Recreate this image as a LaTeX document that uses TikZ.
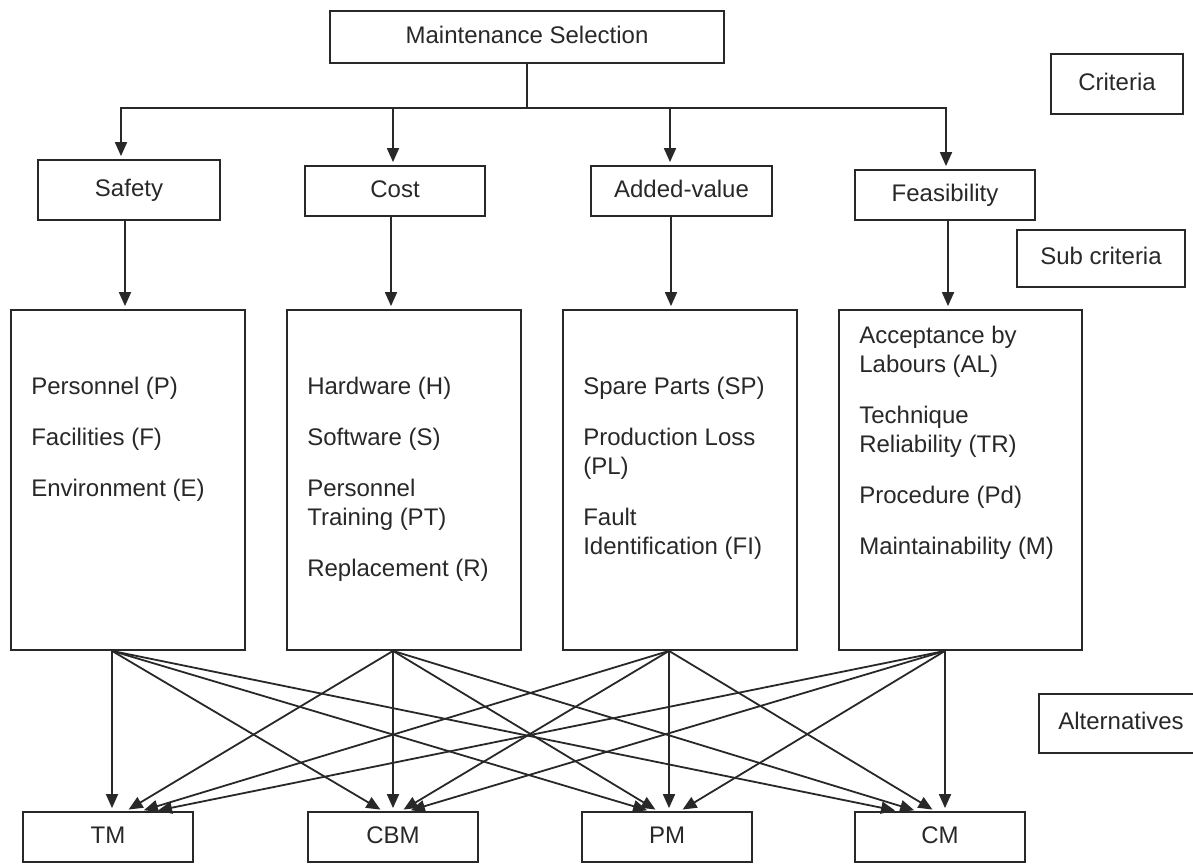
\documentclass[tikz,border=0pt]{standalone}
\usepackage{fontspec}
\setmainfont{Liberation Sans}
\usetikzlibrary{arrows.meta, positioning}
\definecolor{linegray}{RGB}{40, 40, 40}

\begin{document}
\begin{tikzpicture}[
    x=1pt, y=-1pt,
    every node/.style={font=\fontsize{24}{29}\selectfont, text=linegray},
    box/.style={rectangle, draw=linegray, line width=1.8pt, inner sep=0pt, minimum height=50pt, text height=17pt, text depth=5pt},
    bigbox/.style={rectangle, draw=linegray, line width=1.8pt, minimum width=234pt, minimum height=340pt},
    items/.style={anchor=base west, align=left, inner sep=0pt},
    arrow/.style={-{Triangle[length=14pt, width=12pt]}, line width=1.8pt, draw=linegray, shorten >=3pt}
]
    \useasboundingbox (0, 0) rectangle (1193, 863);

    % Goal and level labels
    \node[box, minimum width=394pt, minimum height=52pt] (ms) at (527, 37) {Maintenance Selection};
    \node[box, minimum width=132pt, minimum height=60pt] (crit) at (1117, 84) {Criteria};
    \node[box, minimum width=168pt, minimum height=57pt] (subcrit) at (1101, 258.5) {Sub criteria};
    \node[box, minimum width=164pt, minimum height=59pt] (alt) at (1121, 723.5) {Alternatives};

    % Criteria
    \node[box, minimum width=182pt, minimum height=60pt] (safety) at (129, 190) {Safety};
    \node[box, minimum width=180pt] (cost) at (395, 191) {Cost};
    \node[box, minimum width=181pt] (added) at (681.5, 191) {Added-value};
    \node[box, minimum width=180pt] (feas) at (945, 195) {Feasibility};

    % Sub criteria boxes (text placed by its last baseline)
    \node[bigbox] (sbox) at (128, 480) {};
    \node[bigbox] (cbox) at (404, 480) {};
    \node[bigbox] (abox) at (680, 480) {};
    \node[bigbox, minimum width=243pt] (fbox) at (960.5, 480) {};

    \node[items] (stext) at ([xshift=21pt, yshift=-187pt]sbox.north west) {Personnel (P)\\[22pt]Facilities (F)\\[22pt]Environment (E)};
    \node[items] (ctext) at ([xshift=21pt, yshift=-267pt]cbox.north west) {Hardware (H)\\[22pt]Software (S)\\[22pt]Personnel\\Training (PT)\\[22pt]Replacement (R)};
    \node[items] (atext) at ([xshift=21pt, yshift=-245pt]abox.north west) {Spare Parts (SP)\\[22pt]Production Loss\\(PL)\\[22pt]Fault\\Identification (FI)};
    \node[items] (ftext) at ([xshift=21pt, yshift=-245pt]fbox.north west) {Acceptance by\\Labours (AL)\\[22pt]Technique\\Reliability (TR)\\[22pt]Procedure (Pd)\\[22pt]Maintainability (M)};

    % Alternatives
    \node[box, minimum width=170pt] (tm) at (108, 837) {TM};
    \node[box, minimum width=170pt] (cbm) at (393, 837) {CBM};
    \node[box, minimum width=170pt] (pm) at (667, 837) {PM};
    \node[box, minimum width=170pt] (cm) at (940, 837) {CM};

    % Goal to criteria
    \coordinate (bus) at (527, 108);
    \draw[line width=1.8pt, draw=linegray] (ms.south) -- (bus);
    \draw[arrow] (bus) -| ([xshift=-8pt]safety.north);
    \draw[arrow] (bus) -| ([xshift=-2pt]cost.north);
    \draw[arrow] (bus) -| ([xshift=-11.5pt]added.north);
    \draw[arrow] (bus) -| ([xshift=1pt]feas.north);

    % Criteria to sub criteria
    \draw[arrow] ([xshift=-4pt]safety.south) -- ([xshift=-4pt]safety.south |- sbox.north);
    \draw[arrow] ([xshift=-4pt]cost.south) -- ([xshift=-4pt]cost.south |- cbox.north);
    \draw[arrow] ([xshift=-10.5pt]added.south) -- ([xshift=-10.5pt]added.south |- abox.north);
    \draw[arrow] ([xshift=3pt]feas.south) -- ([xshift=3pt]feas.south |- fbox.north);

    % Sub criteria to alternatives
    \coordinate (sout) at ([xshift=-16pt]sbox.south);
    \coordinate (cout) at ([xshift=-11pt]cbox.south);
    \coordinate (aout) at ([xshift=-11pt]abox.south);
    \coordinate (fout) at ([xshift=-15.5pt]fbox.south);

    \draw[arrow] (sout) -- ([xshift=4pt]tm.north);
    \draw[arrow] (sout) -- ([xshift=-10pt]cbm.north);
    \draw[arrow] (sout) -- ([xshift=-17pt]pm.north);
    \draw[arrow] (sout) -- ([xshift=-42pt]cm.north);

    \draw[arrow] (cout) -- ([xshift=18pt]tm.north);
    \draw[arrow] (cout) -- (cbm.north);
    \draw[arrow] (cout) -- ([xshift=-9pt]pm.north);
    \draw[arrow] (cout) -- ([xshift=-23pt]cm.north);

    \draw[arrow] (aout) -- ([xshift=33pt]tm.north);
    \draw[arrow] (aout) -- ([xshift=8pt]cbm.north);
    \draw[arrow] (aout) -- ([xshift=2pt]pm.north);
    \draw[arrow] (aout) -- ([xshift=-5pt]cm.north);

    \draw[arrow] (fout) -- ([xshift=47pt]tm.north);
    \draw[arrow] (fout) -- ([xshift=15pt]cbm.north);
    \draw[arrow] (fout) -- ([xshift=13pt]pm.north);
    \draw[arrow] (fout) -- ([xshift=5pt]cm.north);

\end{tikzpicture}
\end{document}
